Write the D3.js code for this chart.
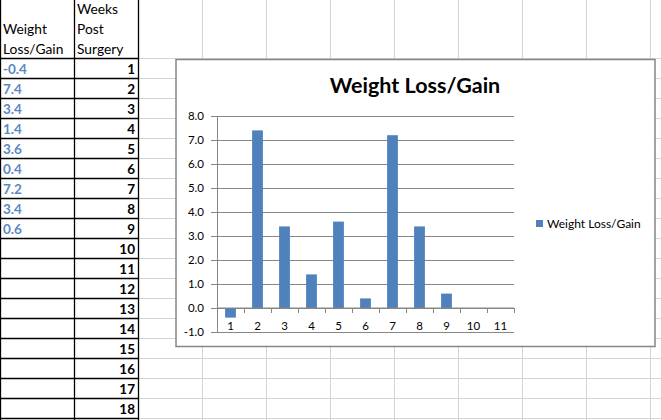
<!DOCTYPE html>
<html>
<head>
<meta charset="utf-8">
<script src="https://cdn.jsdelivr.net/npm/d3@7"></script>
<style>
  html, body { margin: 0; padding: 0; background: #fff; }
  svg { display: block; }
  text { font-family: Lato, "Open Sans", sans-serif; }
</style>
</head>
<body>
<div id="sheet"></div>
<script>
const width = 661;
const height = 420;

// spreadsheet contents
const headerA = ["Weight", "Loss/Gain"];
const headerB = ["Weeks", "Post", "Surgery"];
const weeks = [1, 2, 3, 4, 5, 6, 7, 8, 9, 10, 11, 12, 13, 14, 15, 16, 17, 18];
const lossGain = [-0.4, 7.4, 3.4, 1.4, 3.6, 0.4, 7.2, 3.4, 0.6];

// chart contents
const categories = ["1", "2", "3", "4", "5", "6", "7", "8", "9", "10", "11"];
const chartValues = [-0.4, 7.4, 3.4, 1.4, 3.6, 0.4, 7.2, 3.4, 0.6, null, null];
const yTicks = [-1, 0, 1, 2, 3, 4, 5, 6, 7, 8];
const seriesName = "Weight Loss/Gain";

const blue = "#4F81BD";

const svg = d3.select("#sheet").append("svg")
  .attr("width", width)
  .attr("height", height);

svg.append("rect")
  .attr("width", width)
  .attr("height", height)
  .attr("fill", "#fff");

// sheet gridlines
const headerH = 58, rowH = 20, colW = 64, tableRight = 138;
const grid = svg.append("g").attr("stroke", "#d4d4d4").attr("stroke-width", 1);

for (let x = tableRight + colW; x < width; x += colW) {
  grid.append("line")
    .attr("x1", x + 0.5).attr("x2", x + 0.5)
    .attr("y1", 0).attr("y2", height);
}
for (let y = headerH; y < height; y += rowH) {
  grid.append("line")
    .attr("x1", tableRight).attr("x2", width)
    .attr("y1", y + 0.5).attr("y2", y + 0.5);
}

// table borders
const table = svg.append("g").attr("stroke", "#000").attr("stroke-width", 1.3);
weeks.concat([19]).forEach((w, i) => {
  table.append("line")
    .attr("x1", 0).attr("x2", tableRight + 1)
    .attr("y1", headerH + i * rowH + 0.5).attr("y2", headerH + i * rowH + 0.5);
});
[0.5, 74.5, tableRight + 0.5].forEach(x => {
  table.append("line")
    .attr("x1", x).attr("x2", x)
    .attr("y1", 0).attr("y2", height);
});

// header text
svg.append("g").selectAll("text")
  .data(headerA)
  .join("text")
  .attr("x", 3)
  .attr("y", (d, i) => 34 + i * rowH)
  .attr("font-size", 13.8)
  .attr("fill", "#000")
  .text(d => d);

svg.append("g").selectAll("text")
  .data(headerB)
  .join("text")
  .attr("x", 77)
  .attr("y", (d, i) => 14 + i * rowH)
  .attr("font-size", 13.8)
  .attr("fill", "#000")
  .text(d => d);

// column A values
svg.append("g").selectAll("text")
  .data(lossGain)
  .join("text")
  .attr("x", 3)
  .attr("y", (d, i) => headerH + i * rowH + 16)
  .attr("font-size", 13.5)
  .attr("font-weight", "bold")
  .attr("fill", "#5B87C2")
  .text(d => d.toFixed(1));

// column B weeks
svg.append("g").selectAll("text")
  .data(weeks)
  .join("text")
  .attr("x", 135)
  .attr("y", (d, i) => headerH + i * rowH + 16)
  .attr("text-anchor", "end")
  .attr("font-size", 13.5)
  .attr("font-weight", "bold")
  .attr("fill", "#000")
  .text(d => d);

// chart object
const chart = svg.append("g");

chart.append("rect")
  .attr("x", 176).attr("y", 59.5)
  .attr("width", 479).attr("height", 287)
  .attr("fill", "#fff")
  .attr("stroke", "#868686")
  .attr("stroke-width", 1.5);

chart.append("text")
  .attr("x", 415)
  .attr("y", 93)
  .attr("text-anchor", "middle")
  .attr("font-size", 21.5)
  .attr("font-weight", "bold")
  .attr("fill", "#000")
  .text(seriesName);

const plot = { left: 217, right: 514, top: 116, bottom: 332 };

const x = d3.scaleBand()
  .domain(categories)
  .range([plot.left, plot.right])
  .paddingInner(0.6)
  .paddingOuter(0.3);

const y = d3.scaleLinear()
  .domain([-1, 8])
  .range([plot.bottom, plot.top]);

const axisColor = "#868686";

// horizontal gridlines + y axis
chart.append("g")
  .attr("transform", `translate(${plot.left},0)`)
  .call(d3.axisLeft(y)
    .tickValues(yTicks)
    .tickSize(6)
    .tickFormat(d => d.toFixed(1)))
  .call(g => g.select(".domain").attr("stroke", axisColor))
  .call(g => g.selectAll(".tick line").clone()
    .attr("x2", plot.right - plot.left))
  .call(g => g.selectAll(".tick line").attr("stroke", axisColor))
  .call(g => g.selectAll(".tick text")
    .attr("x", -13)
    .attr("font-size", 11.5)
    .attr("font-family", "Lato, sans-serif")
    .attr("fill", "#000"));

// bars
chart.append("g")
  .selectAll("rect")
  .data(categories.map((c, i) => ({ c, v: chartValues[i] })).filter(d => d.v !== null))
  .join("rect")
  .attr("x", d => x(d.c))
  .attr("width", x.bandwidth())
  .attr("y", d => y(Math.max(0, d.v)))
  .attr("height", d => Math.abs(y(d.v) - y(0)))
  .attr("fill", blue);

// category axis at zero
const step = x.step();
const xAxis = chart.append("g");
xAxis.append("line")
  .attr("x1", plot.left).attr("x2", plot.right)
  .attr("y1", y(0)).attr("y2", y(0))
  .attr("stroke", axisColor);
xAxis.selectAll("line.tick")
  .data(categories.concat(["end"]))
  .join("line")
  .attr("class", "tick")
  .attr("x1", (d, i) => plot.left + i * step + 0.5)
  .attr("x2", (d, i) => plot.left + i * step + 0.5)
  .attr("y1", y(0))
  .attr("y2", y(0) + 5)
  .attr("stroke", axisColor);
xAxis.selectAll("text")
  .data(categories)
  .join("text")
  .attr("x", d => x(d) + x.bandwidth() / 2)
  .attr("y", y(0) + 22)
  .attr("text-anchor", "middle")
  .attr("font-size", 11.5)
  .attr("fill", "#000")
  .text(d => d);

// legend
const legend = chart.append("g").attr("transform", "translate(536,220)");
legend.append("rect")
  .attr("width", 7).attr("height", 7)
  .attr("fill", blue);
legend.append("text")
  .attr("x", 11)
  .attr("y", 8)
  .attr("font-size", 12)
  .attr("fill", "#000")
  .text(seriesName);
</script>
</body>
</html>
